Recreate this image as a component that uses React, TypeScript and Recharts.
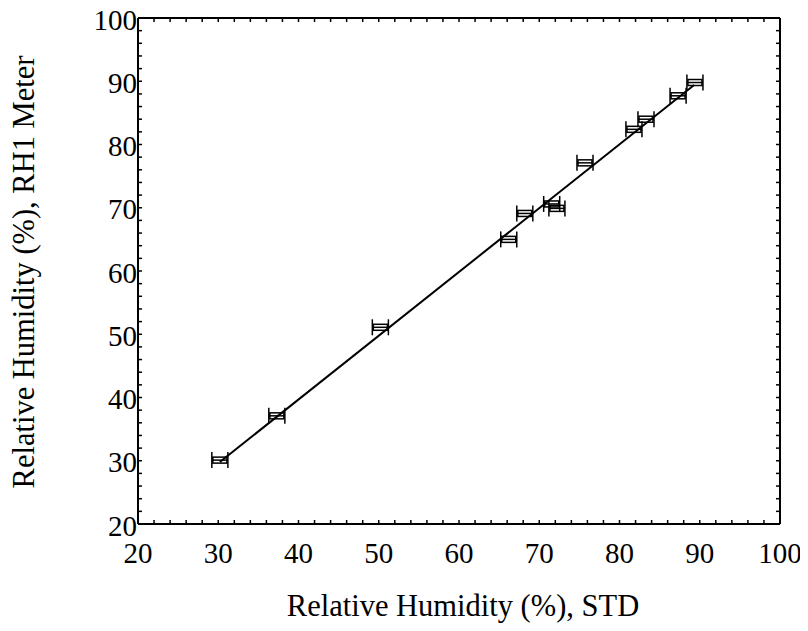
import React from "react";
import { ScatterChart, Scatter, XAxis, YAxis, ErrorBar } from "recharts";

// Measured points: reference STD humidity (x) vs RH1 meter reading (y)
const stdX = [30.2, 37.3, 50.2, 66.2, 68.2, 71.55, 72.2, 75.7, 81.8, 83.3, 87.3, 89.4];
const meterY = [30.1, 37.1, 51.1, 65.0, 69.1, 70.6, 69.9, 77.1, 82.4, 84.0, 87.7, 89.8];
const stdErr = [1.0, 1.0, 1.0, 1.0, 1.0, 1.0, 1.0, 1.0, 1.0, 1.0, 1.0, 1.0];

// Regression line end points
const fitX = [30.2, 89.3];
const fitY = [29.8, 89.4];

// Axis ticks (minor every 2, labelled every 10)
const axisTicks = [20, 22, 24, 26, 28, 30, 32, 34, 36, 38, 40, 42, 44, 46, 48, 50, 52, 54, 56, 58, 60, 62, 64, 66, 68, 70, 72, 74, 76, 78, 80, 82, 84, 86, 88, 90, 92, 94, 96, 98, 100];
const tickLabels = [20, 30, 40, 50, 60, 70, 80, 90, 100];

const points = stdX.map((x, i) => ({ x, y: meterY[i], ex: stdErr[i] }));
const fitLine = fitX.map((x, i) => ({ x, y: fitY[i] }));

const FONT = "'Liberation Serif', 'Times New Roman', serif";
const TICK_LEN = 4;

const BottomTick = (props: any) => {
  const { x, y, payload } = props;
  const show = tickLabels.includes(payload.value);
  return (
    <g>
      <line x1={x} y1={y} x2={x} y2={y - TICK_LEN} stroke="#000" strokeWidth={1.5} />
      {show && (
        <text x={x} y={y + 18} dy="0.71em" textAnchor="middle" fontFamily={FONT} fontSize={29} fill="#000">
          {payload.value}
        </text>
      )}
    </g>
  );
};

const TopTick = (props: any) => {
  const { x, y } = props;
  return <line x1={x} y1={y} x2={x} y2={y + TICK_LEN} stroke="#000" strokeWidth={1.5} />;
};

const LeftTick = (props: any) => {
  const { x, y, payload } = props;
  const show = tickLabels.includes(payload.value);
  return (
    <g>
      <line x1={x} y1={y} x2={x + TICK_LEN} y2={y} stroke="#000" strokeWidth={1.5} />
      {show && (
        <text x={x - 1} y={y} dy="0.4em" textAnchor="end" fontFamily={FONT} fontSize={29} fill="#000">
          {payload.value}
        </text>
      )}
    </g>
  );
};

const RightTick = (props: any) => {
  const { x, y } = props;
  return <line x1={x} y1={y} x2={x - TICK_LEN} y2={y} stroke="#000" strokeWidth={1.5} />;
};

const Marker = (props: any) => {
  const { cx, cy } = props;
  if (cx == null || cy == null) return <g />;
  return <rect x={cx - 7} y={cy - 3} width={14} height={6} fill="none" stroke="#000" strokeWidth={1.5} />;
};

const NoMarker = () => <g />;

const XTitle = () => (
  <text x={455} y={608} textAnchor="middle" fontFamily={FONT} fontSize={30.5} fill="#000">
    Relative Humidity (%), STD
  </text>
);

const YTitle = () => (
  <text
    x={26}
    y={264}
    transform="rotate(-90 26 264)"
    textAnchor="middle"
    fontFamily={FONT}
    fontSize={30.5}
    fill="#000"
  >
    Relative Humidity (%), RH1 Meter
  </text>
);

export default function App() {
  return (
    <ScatterChart
      width={800}
      height={615}
      margin={{ top: 9, right: 27, bottom: 39, left: 70 }}
      style={{ background: "#fff", overflow: "visible" }}
    >
      <XAxis
        xAxisId="bottom"
        type="number"
        dataKey="x"
        domain={[20, 100]}
        ticks={axisTicks}
        interval={0}
        allowDataOverflow
        height={60}
        tickLine={false}
        tickSize={0}
        tickMargin={0}
        axisLine={{ stroke: "#000", strokeWidth: 2 }}
        tick={<BottomTick />}
        label={<XTitle />}
      />
      <XAxis
        xAxisId="top"
        orientation="top"
        type="number"
        dataKey="x"
        domain={[20, 100]}
        ticks={axisTicks}
        interval={0}
        allowDataOverflow
        height={1}
        tickLine={false}
        tickSize={0}
        tickMargin={0}
        axisLine={{ stroke: "#000", strokeWidth: 2 }}
        tick={<TopTick />}
      />
      <YAxis
        yAxisId="left"
        type="number"
        dataKey="y"
        domain={[20, 100]}
        ticks={axisTicks}
        interval={0}
        allowDataOverflow
        width={60}
        tickLine={false}
        tickSize={0}
        tickMargin={0}
        axisLine={{ stroke: "#000", strokeWidth: 2 }}
        tick={<LeftTick />}
        label={<YTitle />}
      />
      <YAxis
        yAxisId="right"
        orientation="right"
        type="number"
        dataKey="y"
        domain={[20, 100]}
        ticks={axisTicks}
        interval={0}
        allowDataOverflow
        width={1}
        tickLine={false}
        tickSize={0}
        tickMargin={0}
        axisLine={{ stroke: "#000", strokeWidth: 2 }}
        tick={<RightTick />}
      />
      <Scatter
        xAxisId="top"
        yAxisId="right"
        data={fitLine}
        line={{ stroke: "#000", strokeWidth: 2 }}
        shape={<NoMarker />}
        isAnimationActive={false}
      />
      <Scatter
        xAxisId="bottom"
        yAxisId="left"
        data={points}
        shape={<Marker />}
        isAnimationActive={false}
      >
        <ErrorBar dataKey="ex" direction="x" width={8} stroke="#000" strokeWidth={1.5} />
      </Scatter>
    </ScatterChart>
  );
}
